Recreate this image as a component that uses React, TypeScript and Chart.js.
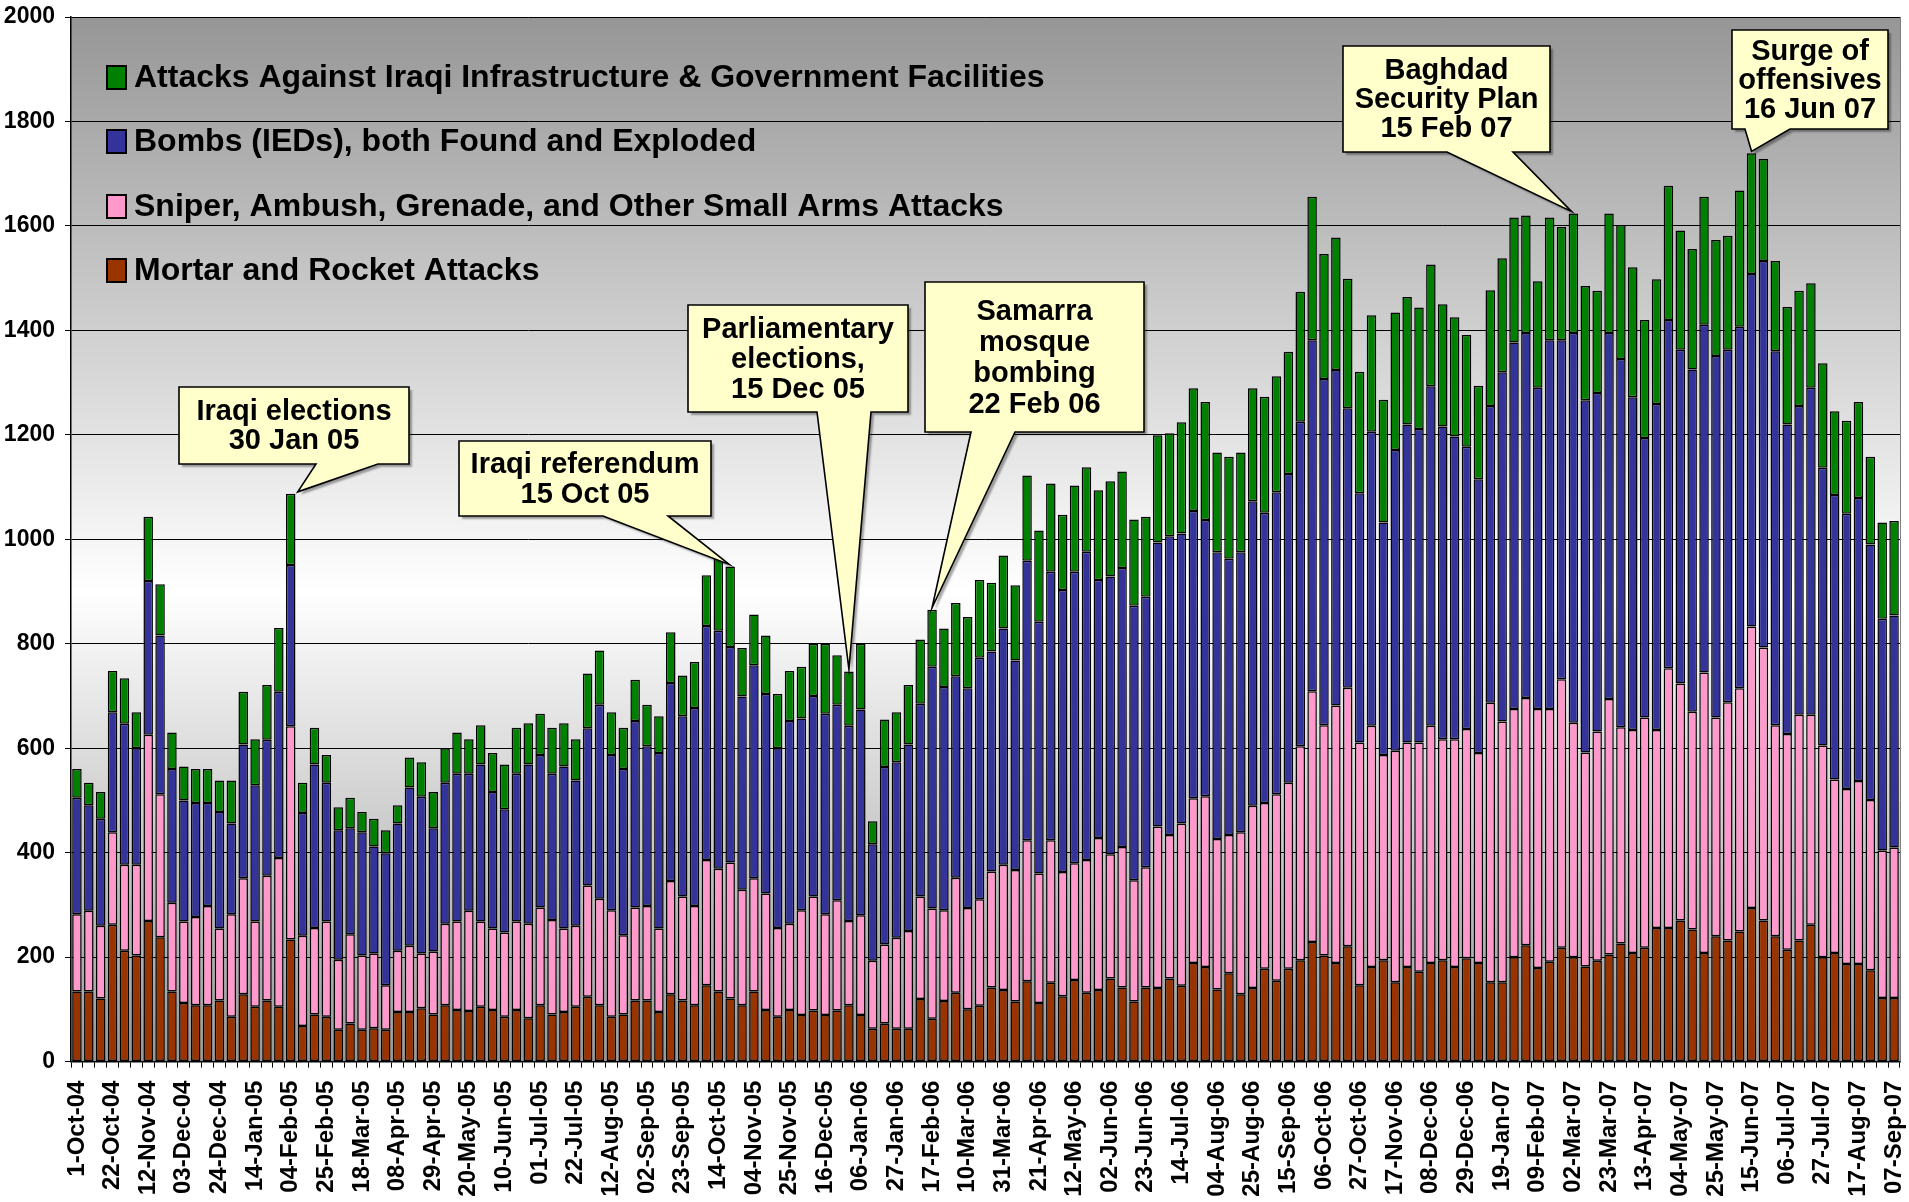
import React, { useEffect, useRef } from 'react';
import { Chart, registerables } from 'chart.js';

Chart.register(...registerables);

// Tick labels, one every third week (154 weekly bars)
const tickLabels = [
  '1-Oct-04', '22-Oct-04', '12-Nov-04', '03-Dec-04', '24-Dec-04', '14-Jan-05', '04-Feb-05', '25-Feb-05',
  '18-Mar-05', '08-Apr-05', '29-Apr-05', '20-May-05', '10-Jun-05', '01-Jul-05', '22-Jul-05', '12-Aug-05',
  '02-Sep-05', '23-Sep-05', '14-Oct-05', '04-Nov-05', '25-Nov-05', '16-Dec-05', '06-Jan-06', '27-Jan-06',
  '17-Feb-06', '10-Mar-06', '31-Mar-06', '21-Apr-06', '12-May-06', '02-Jun-06', '23-Jun-06', '14-Jul-06',
  '04-Aug-06', '25-Aug-06', '15-Sep-06', '06-Oct-06', '27-Oct-06', '17-Nov-06', '08-Dec-06', '29-Dec-06',
  '19-Jan-07', '09-Feb-07', '02-Mar-07', '23-Mar-07', '13-Apr-07', '04-May-07', '25-May-07', '15-Jun-07',
  '06-Jul-07', '27-Jul-07', '17-Aug-07', '07-Sep-07',
];

const mortar = [
  134, 134, 121, 262, 212, 203, 269, 238, 134, 112, 108, 108, 117, 86, 129,
  105, 117, 105, 234, 68, 90, 86, 61, 73, 61, 64, 61, 95, 95, 102,
  90, 108, 99, 97, 105, 99, 86, 99, 83, 108, 90, 95, 105, 124, 108,
  86, 90, 117, 117, 95, 129, 117, 108, 146, 134, 121, 108, 134, 99, 86,
  99, 89, 98, 89, 98, 108, 89, 63, 73, 63, 63, 120, 82, 116, 132,
  100, 107, 142, 137, 115, 154, 112, 151, 125, 156, 132, 137, 159, 142, 115,
  142, 141, 159, 145, 189, 181, 138, 169, 129, 141, 178, 155, 178, 194, 229,
  203, 189, 221, 146, 181, 194, 152, 181, 172, 189, 194, 181, 198, 189, 152,
  152, 200, 223, 179, 191, 218, 200, 182, 193, 205, 226, 208, 218, 256, 256,
  270, 253, 208, 240, 232, 249, 294, 270, 240, 214, 232, 262, 200, 208, 187,
  187, 175, 122, 122,
];

const smallArms = [
  148, 155, 139, 177, 165, 174, 357, 274, 170, 156, 169, 190, 138, 196, 222,
  163, 239, 285, 408, 173, 166, 182, 134, 171, 142, 143, 85, 117, 127, 105,
  121, 156, 169, 192, 163, 156, 161, 169, 181, 187, 181, 160, 155, 213, 204,
  204, 152, 178, 181, 160, 217, 199, 190, 240, 235, 260, 221, 217, 223, 170,
  165, 201, 218, 193, 211, 161, 191, 130, 151, 174, 187, 196, 211, 174, 220,
  194, 204, 222, 240, 252, 270, 248, 273, 238, 224, 254, 291, 238, 269, 232,
  230, 309, 275, 311, 315, 327, 288, 265, 310, 349, 317, 357, 356, 410, 480,
  441, 493, 495, 465, 462, 393, 443, 430, 439, 454, 423, 436, 439, 402, 535,
  499, 475, 473, 496, 484, 514, 449, 410, 439, 489, 414, 427, 441, 379, 497,
  454, 417, 537, 419, 456, 466, 539, 523, 404, 413, 432, 402, 405, 332, 335,
  350, 326, 282, 288,
];

const bombs = [
  223, 202, 205, 230, 270, 223, 294, 304, 256, 232, 218, 197, 223, 174, 256,
  261, 260, 318, 309, 235, 313, 266, 248, 203, 236, 205, 253, 244, 303, 300,
  236, 270, 283, 262, 301, 261, 236, 283, 305, 292, 280, 310, 278, 301, 371,
  297, 318, 357, 306, 336, 379, 345, 379, 448, 456, 413, 370, 408, 382, 344,
  388, 367, 384, 384, 374, 374, 394, 223, 340, 336, 357, 369, 463, 427, 386,
  421, 462, 421, 452, 401, 535, 482, 514, 540, 558, 590, 494, 532, 534, 526,
  518, 544, 572, 555, 550, 529, 549, 529, 536, 583, 556, 578, 591, 621, 672,
  663, 642, 535, 477, 563, 445, 576, 609, 600, 650, 599, 580, 540, 524, 568,
  669, 702, 699, 615, 706, 649, 746, 674, 648, 701, 705, 637, 535, 624, 667,
  639, 655, 666, 692, 675, 692, 675, 740, 716, 593, 591, 626, 532, 545, 527,
  542, 489, 444, 444,
];

const infrastructure = [
  55, 43, 51, 79, 87, 69, 123, 98, 70, 65, 65, 65, 60, 82, 101,
  88, 105, 122, 136, 58, 70, 53, 44, 58, 39, 53, 44, 35, 57, 66,
  69, 66, 79, 66, 75, 75, 86, 88, 79, 79, 88, 83, 79, 105, 104,
  82, 79, 79, 79, 70, 97, 78, 88, 97, 138, 154, 93, 97, 112, 104,
  96, 99, 100, 134, 95, 104, 126, 44, 91, 96, 114, 123, 109, 112, 140,
  136, 149, 132, 140, 144, 163, 175, 169, 144, 165, 162, 172, 182, 185, 165,
  153, 205, 197, 213, 235, 226, 191, 195, 191, 216, 222, 222, 234, 249, 275,
  239, 254, 248, 233, 223, 235, 263, 244, 233, 233, 234, 228, 214, 179, 222,
  218, 239, 225, 204, 235, 217, 229, 219, 196, 229, 257, 249, 226, 239, 257,
  228, 231, 245, 222, 218, 261, 231, 195, 173, 225, 221, 200, 200, 160, 178,
  184, 168, 184, 181,
];

const seriesNames = [
  'Mortar and Rocket Attacks',
  'Sniper, Ambush, Grenade, and Other Small Arms Attacks',
  'Bombs (IEDs), both Found and Exploded',
  'Attacks Against Iraqi Infrastructure & Government Facilities',
];

// Annotations: text and the week (bar index) they point at
const calloutTexts = [
  ['Iraqi elections', '30 Jan 05'],
  ['Iraqi referendum', '15 Oct 05'],
  ['Parliamentary', 'elections,', '15 Dec 05'],
  ['Samarra', 'mosque', 'bombing', '22 Feb 06'],
  ['Baghdad', 'Security Plan', '15 Feb 07'],
  ['Surge of', 'offensives', '16 Jun 07'],
];
const calloutBars = [18, 55, 65, 72, 126, 141];

// layout of callout boxes (pixels): [x, y, w, h], wedge base [x1, x2], tip x nudge, line height
const calloutLayout = [
  { box: [179, 387, 230, 77], base: [316, 378], dx: 7, lh: 29 },
  { box: [459, 441, 252, 75], base: [603, 668], dx: -1, lh: 30 },
  { box: [688, 305, 220, 107], base: [817, 871], dx: 0, lh: 30 },
  { box: [925, 282, 219, 150], base: [971, 1015], dx: 0, lh: 31 },
  { box: [1343, 46, 207, 106], base: [1447, 1513], dx: -2, lh: 29 },
  { box: [1732, 30, 156, 99], base: [1745, 1790], dx: 0, lh: 29 },
];

const FONT = '"Liberation Sans", Arial, Helvetica, sans-serif';
const colors = ['#993300', '#FF99CC', '#333399', '#008000'];

const categories = mortar.map((_, i) => (i % 3 === 0 ? tickLabels[i / 3] : 'w' + i));

const bgPlugin = {
  id: 'bgGradient',
  beforeDraw(chart: any) {
    const { ctx, chartArea: a } = chart;
    ctx.save();
    ctx.fillStyle = '#ffffff';
    ctx.fillRect(0, 0, chart.width, chart.height);
    const g = ctx.createLinearGradient(0, a.top, 0, a.bottom);
    g.addColorStop(0, '#969696');
    g.addColorStop(0.55, '#ffffff');
    g.addColorStop(1, '#999999');
    ctx.fillStyle = g;
    ctx.fillRect(a.left, a.top, a.right - a.left, a.bottom - a.top);
    ctx.restore();
  },
};

const overlayPlugin = {
  id: 'overlay',
  afterDraw(chart: any) {
    const { ctx, chartArea: a } = chart;
    const xs = chart.scales.x;
    const ys = chart.scales.y;
    ctx.save();
    // right border of plot area
    ctx.strokeStyle = '#808080';
    ctx.lineWidth = 1;
    ctx.beginPath();
    ctx.moveTo(a.right + 0.5, a.top);
    ctx.lineTo(a.right + 0.5, a.bottom);
    ctx.stroke();

    // legend
    const order = [3, 2, 1, 0];
    const rowY = [77, 141, 206, 270];
    ctx.font = `bold 32px ${FONT}`;
    ctx.textBaseline = 'middle';
    ctx.textAlign = 'left';
    order.forEach((di, r) => {
      const y = rowY[r];
      ctx.fillStyle = colors[di];
      ctx.fillRect(107, y - 11, 19, 23);
      ctx.strokeStyle = '#000';
      ctx.lineWidth = 2;
      ctx.strokeRect(107, y - 11, 19, 23);
      ctx.fillStyle = '#000';
      ctx.fillText(seriesNames[di], 134, y + 1);
    });

    // callouts
    calloutTexts.forEach((lines, k) => {
      const L = calloutLayout[k];
      const bi = calloutBars[k];
      const total = mortar[bi] + smallArms[bi] + bombs[bi] + infrastructure[bi];
      const tx = xs.getPixelForValue(bi) + L.dx;
      const ty = ys.getPixelForValue(total) - 2;
      const [bx, by, bw, bh] = L.box;
      const [b1, b2] = L.base;
      const path = () => {
        ctx.beginPath();
        ctx.moveTo(bx, by);
        ctx.lineTo(bx + bw, by);
        ctx.lineTo(bx + bw, by + bh);
        ctx.lineTo(b2, by + bh);
        ctx.lineTo(tx, ty);
        ctx.lineTo(b1, by + bh);
        ctx.lineTo(bx, by + bh);
        ctx.closePath();
      };
      ctx.save();
      ctx.shadowColor = 'rgba(0,0,0,0.35)';
      ctx.shadowOffsetX = 3;
      ctx.shadowOffsetY = 3;
      ctx.shadowBlur = 2;
      path();
      ctx.fillStyle = '#FFFFCC';
      ctx.fill();
      ctx.restore();
      path();
      ctx.strokeStyle = '#000';
      ctx.lineWidth = 1.6;
      ctx.lineJoin = 'miter';
      ctx.stroke();
      ctx.fillStyle = '#000';
      ctx.font = `bold 29px ${FONT}`;
      ctx.textAlign = 'center';
      ctx.textBaseline = 'middle';
      const cy = by + bh / 2 - ((lines.length - 1) * L.lh) / 2;
      lines.forEach((t, j) => ctx.fillText(t, bx + bw / 2, cy + j * L.lh + 1));
    });
    ctx.restore();
  },
};

export default function App() {
  const ref = useRef<HTMLCanvasElement>(null);
  useEffect(() => {
    const canvas = ref.current;
    if (!canvas) return;
    Chart.defaults.font.family = FONT;
    const chart = new Chart(canvas, {
      type: 'bar',
      data: {
        labels: categories,
        datasets: [mortar, smallArms, bombs, infrastructure].map((d, i) => ({
          label: seriesNames[i],
          data: d,
          backgroundColor: colors[i],
          borderColor: '#000000',
          borderWidth: 1.5,
          borderSkipped: false,
          barPercentage: 0.8,
          categoryPercentage: 1.0,
        })),
      },
      options: {
        responsive: false,
        animation: false,
        devicePixelRatio: 1,
        layout: { padding: { top: 17, right: 9, left: 0, bottom: 0 } },
        plugins: { legend: { display: false }, tooltip: { enabled: false } },
        scales: {
          x: {
            stacked: true,
            grid: { offset: true, drawOnChartArea: false, drawTicks: true, tickLength: 6, color: '#000', lineWidth: 1 },
            border: { display: true, color: '#000', width: 1.5 },
            ticks: {
              autoSkip: false,
              maxRotation: 90,
              minRotation: 90,
              padding: 13,
              color: '#000',
              font: { family: FONT, weight: 'bold', size: 24 },
              callback: (_v: any, i: number) => (i % 3 === 0 ? tickLabels[i / 3] : ''),
            },
            afterFit: (s: any) => {
              s.height = 140.4;
              s.paddingLeft = 0;
              s.paddingRight = 0;
            },
          },
          y: {
            stacked: true,
            min: 0,
            max: 2000,
            ticks: {
              stepSize: 200,
              color: '#000',
              padding: 10,
              font: { family: FONT, weight: 'bold', size: 23 },
              callback: (v: any) => String(v),
            },
            grid: { color: '#000', lineWidth: 1, tickLength: 6 },
            border: { display: true, color: '#000', width: 1.5 },
            afterFit: (s: any) => {
              s.width = 71;
              s.paddingTop = 0;
              s.paddingBottom = 0;
            },
          },
        },
      } as any,
      plugins: [bgPlugin, overlayPlugin],
    });
    return () => chart.destroy();
  }, []);
  return (
    <div style={{ position: 'absolute', left: 0, top: 0, width: 1909, height: 1202, background: '#fff' }}>
      <canvas ref={ref} width={1909} height={1202} style={{ display: 'block', width: 1909, height: 1202 }} />
    </div>
  );
}
